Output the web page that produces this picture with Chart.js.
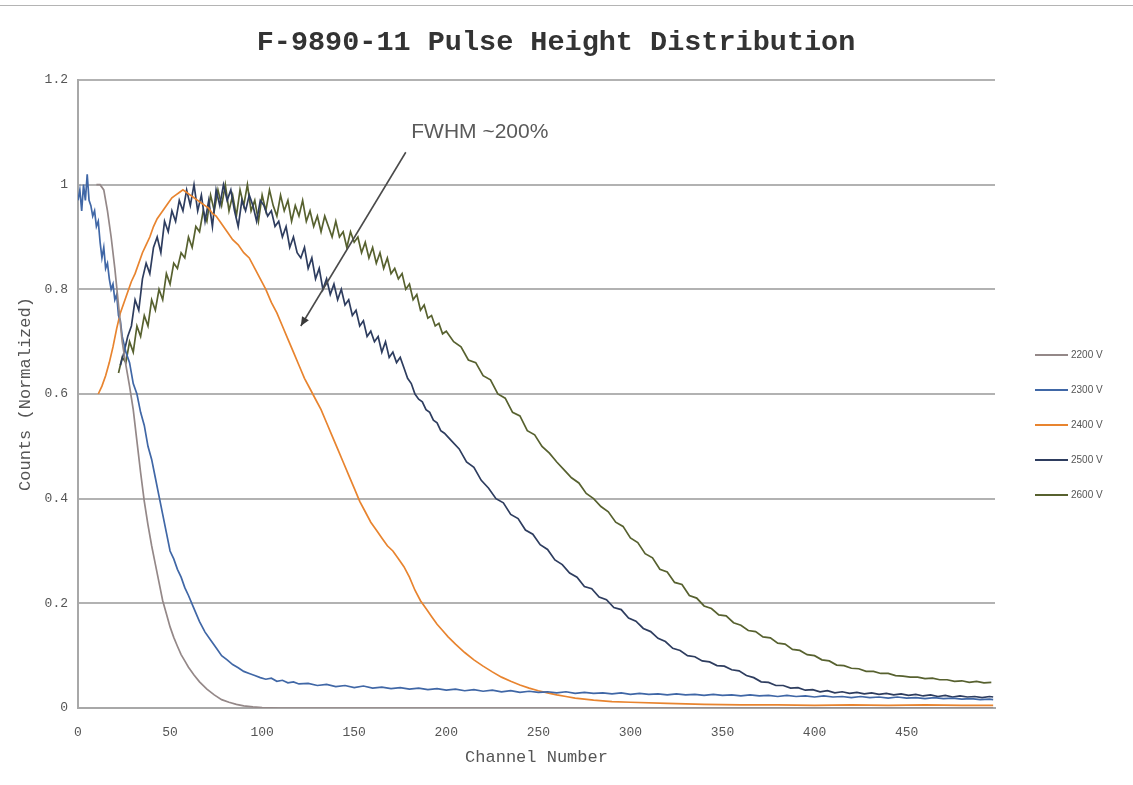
<!DOCTYPE html>
<html>
<head>
<meta charset="utf-8">
<title>F-9890-11 Pulse Height Distribution</title>
<script src="https://cdn.jsdelivr.net/npm/chart.js@4.4.1/dist/chart.umd.min.js"></script>
<style>
  html, body { margin: 0; padding: 0; background: #ffffff; }
  #wrap { position: relative; width: 1133px; height: 785px; }
  #topRule { position: absolute; left: 0; top: 5px; width: 1133px; height: 1px; background: #b4b4b4; }
  canvas { position: absolute; left: 0; top: 0; }
</style>
</head>
<body>
<div id="wrap">
  <canvas id="phd" width="1133" height="785"></canvas>
  <div id="topRule"></div>
</div>
<script>
// Axis ticks
const xTicks = [0, 50, 100, 150, 200, 250, 300, 350, 400, 450];
const yTicks = [0, 0.2, 0.4, 0.6, 0.8, 1, 1.2];

// Series labels
const seriesNames = ['2200 V', '2300 V', '2400 V', '2500 V', '2600 V'];

// 2200 V
const ch2200 = [10,12,14,16,18,20,22,24,26,28,30,32,34,36,38,40,42,44,46,48,50,52,54,56,58,60,63,66,70,74,78,82,86,90,95,100,110,150,200,250,300,350,400,450,497];
const v2200  = [1.0,1.0,0.99,0.95,0.9,0.84,0.77,0.70,0.655,0.615,0.57,0.51,0.45,0.395,0.35,0.31,0.275,0.24,0.205,0.18,0.155,0.135,0.118,0.102,0.09,0.078,0.063,0.05,0.036,0.025,0.016,0.011,0.007,0.004,0.002,0.001,0,0,0,0,0,0,0,0,0];

// 2300 V
const ch2300 = [0,1,2,3,4,5,6,7,8,9,10,11,12,13,14,15,16,17,18,19,20,21,22,23,24,
  26,28,30,32,34,36,38,40,42,44,46,48,50,52,54,56,58,60,
  63,66,69,72,75,78,81,84,87,90,93,96,99,102,105,108,111,114,117,120,
  125,130,135,140,145,150,155,160,165,170,175,180,185,190,195,200,205,210,215,220,225,230,235,240,245,250,
  255,260,265,270,275,280,285,290,295,300,305,310,315,320,325,330,335,340,345,350,355,360,365,370,375,380,
  385,390,395,400,405,410,415,420,425,430,435,440,445,450,455,460,465,470,475,480,485,490,495,497];
const v2300  = [0.97,0.99,0.95,1.0,0.97,1.02,0.97,0.96,0.94,0.95,0.92,0.93,0.89,0.86,0.88,0.84,0.85,0.82,0.80,0.81,0.78,0.79,0.75,0.74,0.71,
  0.68,0.66,0.62,0.60,0.565,0.54,0.50,0.475,0.44,0.405,0.37,0.335,0.30,0.285,0.265,0.25,0.23,0.215,
  0.19,0.165,0.145,0.13,0.115,0.10,0.092,0.083,0.077,0.07,0.066,0.062,0.058,0.055,0.057,0.051,0.053,0.048,0.05,0.046,
  0.047,0.043,0.045,0.041,0.043,0.039,0.042,0.038,0.04,0.037,0.039,0.036,0.038,0.035,0.037,0.034,0.036,0.033,0.035,0.032,0.034,0.031,0.033,0.03,0.032,0.03,
  0.031,0.029,0.031,0.028,0.03,0.028,0.029,0.027,0.029,0.026,0.028,0.026,0.027,0.025,0.027,0.025,0.026,0.024,0.026,0.024,0.025,0.023,0.025,0.023,0.024,0.022,
  0.024,0.022,0.023,0.021,0.023,0.021,0.022,0.02,0.022,0.02,0.021,0.019,0.021,0.019,0.02,0.018,0.02,0.018,0.019,0.017,0.018,0.016,0.017,0.016];

// 2400 V
const ch2400 = [11,13,15,17,19,21,23,25,27,29,31,33,35,37,39,41,43,45,47,49,51,53,55,57,59,61,63,65,67,69,71,73,75,77,79,81,
  84,87,90,93,96,99,102,105,108,111,114,117,120,123,126,129,132,135,138,141,144,147,150,153,156,159,162,165,168,171,174,177,180,
  183,186,189,192,195,198,201,205,210,215,220,225,230,235,240,245,250,255,260,265,270,280,290,300,320,340,360,380,400,420,440,460,480,497];
const v2400  = [0.60,0.615,0.635,0.66,0.69,0.725,0.755,0.775,0.795,0.815,0.83,0.85,0.87,0.885,0.90,0.92,0.935,0.945,0.955,0.965,0.975,0.98,0.985,0.99,0.985,0.98,0.975,0.97,0.965,0.96,0.955,0.945,0.94,0.93,0.92,0.91,
  0.895,0.885,0.87,0.86,0.84,0.82,0.80,0.775,0.755,0.73,0.705,0.68,0.655,0.63,0.61,0.59,0.57,0.545,0.52,0.495,0.47,0.445,0.42,0.395,0.375,0.355,0.34,0.325,0.31,0.30,0.285,0.27,0.25,
  0.225,0.205,0.19,0.175,0.16,0.148,0.136,0.122,0.106,0.092,0.08,0.069,0.059,0.051,0.044,0.038,0.033,0.029,0.025,0.022,0.019,0.015,0.012,0.011,0.009,0.007,0.006,0.006,0.005,0.006,0.005,0.006,0.005,0.005];

// 2500 V
const ch2500 = [23,25,27,29,31,33,35,37,39,41,43,45,47,49,51,53,55,57,59,61,63,65,67,69,71,73,75,77,79,81,83,85,87,89,91,93,95,97,99,
  101,103,105,107,109,111,113,115,117,119,121,123,125,127,129,131,133,135,137,139,141,143,145,147,149,151,153,155,157,159,
  161,163,165,167,169,171,173,175,177,179,181,183,185,187,189,191,193,195,197,199,
  203,207,211,215,219,223,227,231,235,239,243,247,251,255,259,263,267,271,275,279,283,287,291,295,299,303,307,311,315,319,
  323,327,331,335,339,343,347,351,355,359,363,367,371,375,379,383,387,391,395,399,403,407,411,415,419,423,427,431,435,439,
  443,447,451,455,459,463,467,471,475,479,483,487,491,495,497];
const v2500  = [0.655,0.68,0.71,0.73,0.78,0.76,0.82,0.85,0.83,0.88,0.90,0.87,0.93,0.91,0.95,0.93,0.97,0.95,0.99,0.96,1.0,0.95,0.98,0.93,0.97,0.92,0.99,0.96,1.0,0.97,0.99,0.95,0.92,0.97,0.95,0.98,0.96,0.93,0.97,
  0.96,0.94,0.95,0.92,0.93,0.90,0.92,0.88,0.90,0.87,0.86,0.88,0.84,0.86,0.82,0.84,0.80,0.82,0.79,0.81,0.78,0.80,0.77,0.78,0.75,0.76,0.73,0.74,0.71,0.72,
  0.70,0.71,0.68,0.70,0.67,0.68,0.66,0.67,0.65,0.63,0.62,0.60,0.59,0.585,0.57,0.565,0.55,0.545,0.53,0.525,
  0.51,0.495,0.47,0.46,0.435,0.42,0.40,0.392,0.37,0.362,0.34,0.332,0.312,0.303,0.283,0.274,0.258,0.25,0.232,0.228,0.212,0.207,0.192,0.188,0.172,0.166,0.152,0.146,0.133,0.127,
  0.114,0.11,0.1,0.098,0.09,0.088,0.081,0.08,0.073,0.071,0.062,0.058,0.05,0.049,0.043,0.043,0.038,0.039,0.034,0.035,0.031,0.033,0.029,0.031,0.028,0.03,0.027,0.029,0.026,0.028,
  0.025,0.027,0.024,0.026,0.023,0.025,0.022,0.024,0.021,0.023,0.021,0.022,0.02,0.022,0.021];

// 2600 V
const ch2600 = [22,24,26,28,30,32,34,36,38,40,42,44,46,48,50,52,54,56,58,60,62,64,66,68,70,72,74,76,78,80,
  82,84,86,88,90,92,94,96,98,100,102,104,106,108,110,112,114,116,118,120,122,124,126,128,130,132,134,136,138,140,
  142,144,146,148,150,152,154,156,158,160,162,164,166,168,170,172,174,176,178,180,182,184,186,188,190,192,194,196,198,200,
  204,208,212,216,220,224,228,232,236,240,244,248,252,256,260,264,268,272,276,280,284,288,292,296,300,304,308,312,316,320,
  324,328,332,336,340,344,348,352,356,360,364,368,372,376,380,384,388,392,396,400,404,408,412,416,420,424,428,432,436,440,
  444,448,452,456,460,464,468,472,476,480,484,488,492,496];
const v2600  = [0.64,0.67,0.66,0.70,0.68,0.73,0.71,0.75,0.73,0.78,0.76,0.80,0.78,0.83,0.81,0.85,0.84,0.87,0.86,0.90,0.88,0.92,0.91,0.95,0.93,0.98,0.95,0.99,0.96,1.0,
  0.95,0.98,0.94,0.99,0.96,1.0,0.95,0.97,0.93,0.98,0.95,0.99,0.96,0.94,0.98,0.95,0.97,0.93,0.96,0.94,0.97,0.93,0.95,0.92,0.94,0.91,0.94,0.92,0.90,0.93,
  0.90,0.91,0.88,0.91,0.89,0.90,0.87,0.89,0.86,0.88,0.85,0.87,0.84,0.86,0.83,0.84,0.82,0.83,0.80,0.81,0.78,0.79,0.76,0.77,0.745,0.75,0.73,0.735,0.715,0.72,
  0.70,0.69,0.665,0.66,0.635,0.627,0.60,0.592,0.565,0.558,0.53,0.522,0.50,0.487,0.47,0.455,0.44,0.43,0.41,0.40,0.385,0.375,0.355,0.347,0.325,0.316,0.295,0.287,0.265,0.26,
  0.24,0.236,0.215,0.21,0.195,0.19,0.178,0.176,0.163,0.158,0.148,0.146,0.136,0.134,0.124,0.122,0.112,0.11,0.102,0.1,0.092,0.09,0.082,0.081,0.076,0.075,0.07,0.07,0.066,0.066,
  0.062,0.061,0.059,0.059,0.056,0.057,0.054,0.054,0.051,0.052,0.049,0.051,0.048,0.049];

const seriesColors = ['#948888', '#4067a6', '#e8842f', '#2e3d5f', '#57612f'];

const chartTitle = 'F-9890-11 Pulse Height Distribution';

// FWHM call-out, in data units
const noteText = 'FWHM ~200%';
const noteAnchor = { x: 181, y: 1.1 };
const arrowTail = { x: 178, y: 1.062 };
const arrowHead = { x: 121, y: 0.73 };

function toPoints(ch, v) {
  return ch.map((c, i) => ({ x: c, y: v[i] }));
}

const channelSets = [ch2200, ch2300, ch2400, ch2500, ch2600];
const countSets = [v2200, v2300, v2400, v2500, v2600];

const datasets = seriesNames.map((name, i) => ({
  label: name,
  data: toPoints(channelSets[i], countSets[i]),
  borderColor: seriesColors[i],
  backgroundColor: seriesColors[i],
  borderWidth: 1.7,
  pointRadius: 0,
  tension: 0,
  fill: false
}));

const mono = '"Liberation Mono", "Courier New", monospace';

// Heading centred over the whole figure, including the key column
const heading = {
  id: 'heading',
  afterDraw(chart) {
    const { ctx } = chart;
    ctx.save();
    ctx.font = 'bold 28.5px ' + mono;
    ctx.fillStyle = '#333333';
    ctx.textAlign = 'center';
    ctx.textBaseline = 'middle';
    ctx.fillText(chartTitle, 556, 43);
    ctx.restore();
  }
};

// Arrow and text call-out pointing at the 2400 V curve
const fwhmNote = {
  id: 'fwhmNote',
  afterDatasetsDraw(chart) {
    const { ctx, scales: { x, y } } = chart;
    const x0 = x.getPixelForValue(arrowTail.x), y0 = y.getPixelForValue(arrowTail.y);
    const x1 = x.getPixelForValue(arrowHead.x), y1 = y.getPixelForValue(arrowHead.y);
    ctx.save();
    ctx.strokeStyle = '#4a4a4a';
    ctx.fillStyle = '#3a3a3a';
    ctx.lineWidth = 1.6;
    ctx.beginPath();
    ctx.moveTo(x0, y0);
    ctx.lineTo(x1, y1);
    ctx.stroke();
    const ang = Math.atan2(y1 - y0, x1 - x0);
    const L = 9, W = 4;
    ctx.beginPath();
    ctx.moveTo(x1, y1);
    ctx.lineTo(x1 - L * Math.cos(ang) + W * Math.sin(ang), y1 - L * Math.sin(ang) - W * Math.cos(ang));
    ctx.lineTo(x1 - L * Math.cos(ang) - W * Math.sin(ang), y1 - L * Math.sin(ang) + W * Math.cos(ang));
    ctx.closePath();
    ctx.fill();
    ctx.font = '21px "Liberation Sans", Arial, sans-serif';
    ctx.fillStyle = '#5a5a5a';
    ctx.textAlign = 'left';
    ctx.textBaseline = 'middle';
    ctx.fillText(noteText, x.getPixelForValue(noteAnchor.x), y.getPixelForValue(noteAnchor.y));
    ctx.restore();
  }
};

// Vertical key at the right of the plot, one short line per dataset
const sideKey = {
  id: 'sideKey',
  afterDraw(chart) {
    const { ctx } = chart;
    const lineX0 = 1035, lineX1 = 1068, textX = 1071, top = 355, step = 35;
    ctx.save();
    ctx.font = '10px "Liberation Sans", Arial, sans-serif';
    ctx.textAlign = 'left';
    ctx.textBaseline = 'middle';
    chart.data.datasets.forEach((ds, i) => {
      const yy = top + i * step;
      ctx.strokeStyle = ds.borderColor;
      ctx.lineWidth = 2;
      ctx.beginPath();
      ctx.moveTo(lineX0, yy);
      ctx.lineTo(lineX1, yy);
      ctx.stroke();
      ctx.fillStyle = '#555555';
      ctx.fillText(ds.label, textX, yy);
    });
    ctx.restore();
  }
};

new Chart(document.getElementById('phd'), {
  type: 'line',
  data: { datasets },
  options: {
    responsive: false,
    devicePixelRatio: 1,
    animation: false,
    layout: { padding: { left: 15, right: 138, top: 80, bottom: 17 } },
    scales: {
      x: {
        type: 'linear',
        min: 0,
        max: 498,
        afterBuildTicks: (axis) => { axis.ticks = xTicks.map(v => ({ value: v })); },
        afterFit: (axis) => { axis.height = 60; },
        grid: { display: false, drawTicks: false },
        border: { display: true, color: '#a8a8a8', width: 2 },
        ticks: { font: { family: mono, size: 13 }, color: '#555555', padding: 17, maxRotation: 0, callback: (v) => String(v) },
        title: { display: true, text: 'Channel Number', font: { family: mono, size: 17 }, color: '#555555', padding: { top: 0, bottom: 0 } }
      },
      y: {
        type: 'linear',
        min: 0,
        max: 1.2,
        afterBuildTicks: (axis) => { axis.ticks = yTicks.map(v => ({ value: v })); },
        afterFit: (axis) => { axis.width = 63; },
        grid: { color: '#b2b2b2', lineWidth: 2, drawTicks: false },
        border: { display: true, color: '#a8a8a8', width: 2 },
        ticks: { font: { family: mono, size: 13 }, color: '#555555', padding: 10, callback: (v) => String(v) },
        title: { display: true, text: 'Counts (Normalized)', font: { family: mono, size: 17 }, color: '#555555', padding: { top: 0, bottom: 0 } }
      }
    },
    plugins: {
      title: { display: false },
      legend: { display: false },
      tooltip: { enabled: false }
    }
  },
  plugins: [heading, fwhmNote, sideKey]
});
</script>
</body>
</html>
